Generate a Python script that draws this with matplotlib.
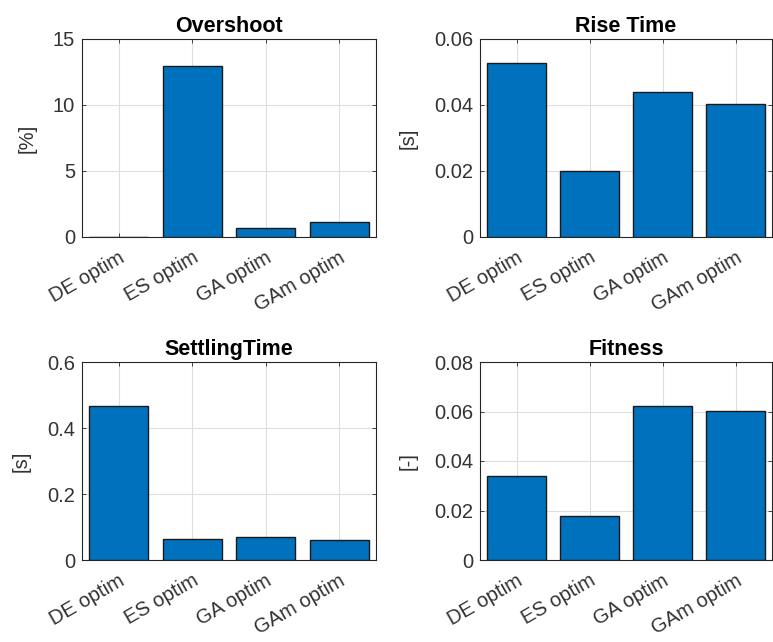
import matplotlib
matplotlib.use("Agg")
import matplotlib.pyplot as plt
import numpy as np

plt.rcParams['font.family'] = ['Liberation Sans', 'DejaVu Sans']

categories = ["DE optim", "ES optim", "GA optim", "GAm optim"]
overshoot = [0.0, 12.95, 0.70, 1.11]
rise_time = [0.0526, 0.0201, 0.0440, 0.0402]
settling_time = [0.466, 0.0645, 0.0686, 0.0615]
fitness = [0.0339, 0.0179, 0.0622, 0.0603]

panels = [
    ("Overshoot", "[%]", overshoot, (0, 15), [0, 5, 10, 15], ["0", "5", "10", "15"]),
    ("Rise Time", "[s]", rise_time, (0, 0.06), [0, 0.02, 0.04, 0.06], ["0", "0.02", "0.04", "0.06"]),
    ("SettlingTime", "[s]", settling_time, (0, 0.6), [0, 0.2, 0.4, 0.6], ["0", "0.2", "0.4", "0.6"]),
    ("Fitness", "[-]", fitness, (0, 0.08), [0, 0.02, 0.04, 0.06, 0.08], ["0", "0.02", "0.04", "0.06", "0.08"]),
]

W, H = 773, 642
fig = plt.figure(figsize=(W / 100, H / 100), dpi=100)

# axes rectangles in pixels: left, top, right, bottom
rects = [
    (82, 39, 376, 237),
    (480, 39, 772, 237),
    (82, 362, 376, 560),
    (480, 362, 772, 560),
]

axc = (0.15, 0.15, 0.15)
x = np.arange(1, len(categories) + 1)
for (title, ylab, vals, ylim, yt, ytl), (l, t, r, b) in zip(panels, rects):
    ax = fig.add_axes([l / W, 1 - b / H, (r - l) / W, (b - t) / H])
    ax.bar(x, vals, width=0.8, color="#0072BD", edgecolor=(0.1, 0.1, 0.1), linewidth=1.0, zorder=3)
    ax.set_xlim(0.5, 4.5)
    ax.set_ylim(*ylim)
    ax.set_yticks(yt)
    ax.set_yticklabels(ytl)
    ax.set_xticks(x)
    ax.set_xticklabels(categories, rotation=30, ha="right", rotation_mode="anchor")
    ax.grid(True, color=(0.87, 0.87, 0.87), linewidth=0.8, zorder=0)
    ax.tick_params(direction="in", length=3, width=0.6, colors=axc, labelsize=14.5,
                   top=True, right=True, labelcolor=(0.2, 0.2, 0.2))
    ax.tick_params(axis="x", pad=8)
    ax.tick_params(axis="y", pad=5)
    for s in ax.spines.values():
        s.set_color(axc)
        s.set_linewidth(0.8)
    ax.set_title(title, fontsize=15.5, fontweight="bold", pad=5)
    ax.set_ylabel(ylab, fontsize=14.5, color=(0.2, 0.2, 0.2), labelpad=12)
    ax.set_axisbelow(True)

fig.savefig("out.png", dpi=100, facecolor="white")
